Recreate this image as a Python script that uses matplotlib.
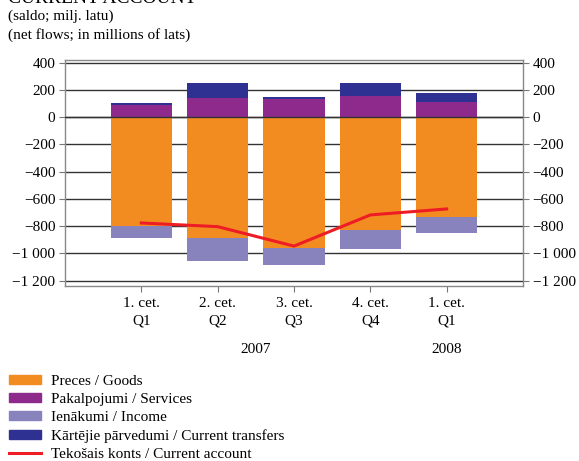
import matplotlib
matplotlib.use("Agg")
import matplotlib.pyplot as plt
import numpy as np
from matplotlib.patches import Patch
from matplotlib.lines import Line2D

quarters = ["1. cet.\nQ1", "2. cet.\nQ2", "3. cet.\nQ3", "4. cet.\nQ4", "1. cet.\nQ1"]
years = ["2007", "2008"]
goods = [-797, -886, -959, -829, -733]
services = [89, 138, 133, 153, 108]
income = [-89, -172, -128, -140, -116]
transfers = [14, 111, 12, 96, 67]
current_account = [-777, -804, -947, -718, -674]

c_goods = "#F38C20"
c_serv = "#8E2A8B"
c_inc = "#8983BD"
c_trans = "#2E3192"
c_line = "#EE1C25"

plt.rcParams['font.family'] = ['Liberation Serif', 'DejaVu Serif']
W, H = 579, 461
fig = plt.figure(figsize=(W/100, H/100), dpi=100)
ax = fig.add_axes([65/W, (H-286)/H, 458/W, (286-60)/H])

x = np.arange(len(goods))
bw = 0.8
ax.bar(x, goods, bw, color=c_goods, zorder=2)
ax.bar(x, income, bw, bottom=goods, color=c_inc, zorder=2)
ax.bar(x, services, bw, color=c_serv, zorder=2)
ax.bar(x, transfers, bw, bottom=services, color=c_trans, zorder=2)
ax.plot(x, current_account, color=c_line, lw=2.2, zorder=4)

ax.set_xlim(-1, 5)
ax.set_ylim(-1240, 420)
yt = np.arange(-1200, 401, 200)
ax.set_yticks(yt)
def fmt(v):
    s = f"{abs(v):,}".replace(",", " ")
    return ("\u2212" + s) if v < 0 else s
ax.set_yticklabels([fmt(v) for v in yt])
ax.yaxis.grid(True, color="#333333", lw=1.0, zorder=1)
ax.axhline(0, color="#333333", lw=1.0, zorder=3)
ax.set_axisbelow(True)
ax.tick_params(axis='y', which='both', left=True, right=True, labelleft=True, labelright=True,
               direction='out', length=4, color="#777777", labelsize=11, pad=3)
ax.set_xticks(x)
ax.set_xticklabels(quarters, linespacing=1.45)
ax.tick_params(axis='x', direction='out', length=4, color="#777777", labelsize=11, pad=4)
for s in ax.spines.values():
    s.set_color("#888888")
    s.set_linewidth(1.0)

# year labels
ax.text(1.5, -0.28, years[0], transform=ax.get_xaxis_transform(), ha='center', va='center', fontsize=11)
ax.text(4, -0.28, years[1], transform=ax.get_xaxis_transform(), ha='center', va='center', fontsize=11)

# titles (top title is cut off by the image edge, as in the reference)
fig.text(8/W, 1 - 3/H, "CURRENT ACCOUNT", ha='left', va='baseline', fontsize=14)
fig.text(8/W, 1 - 16/H, "(saldo; milj. latu)", ha='left', va='center', fontsize=11)
fig.text(8/W, 1 - 35/H, "(net flows; in millions of lats)", ha='left', va='center', fontsize=11)

handles = [Patch(color=c_goods), Patch(color=c_serv), Patch(color=c_inc), Patch(color=c_trans),
           Line2D([0], [0], color=c_line, lw=2.2)]
labels = ["Preces / Goods", "Pakalpojumi / Services", "Ienākumi / Income",
          "Kārtējie pārvedumi / Current transfers", "Tekošais konts / Current account"]
fig.legend(handles, labels, loc='upper left', bbox_to_anchor=(4/W, 1 - 370/H), frameon=False,
           fontsize=11, handlelength=2.1, handleheight=0.55, handletextpad=0.65, labelspacing=0.33,
           borderaxespad=0, borderpad=0.3)

fig.savefig("out.png", dpi=100)
